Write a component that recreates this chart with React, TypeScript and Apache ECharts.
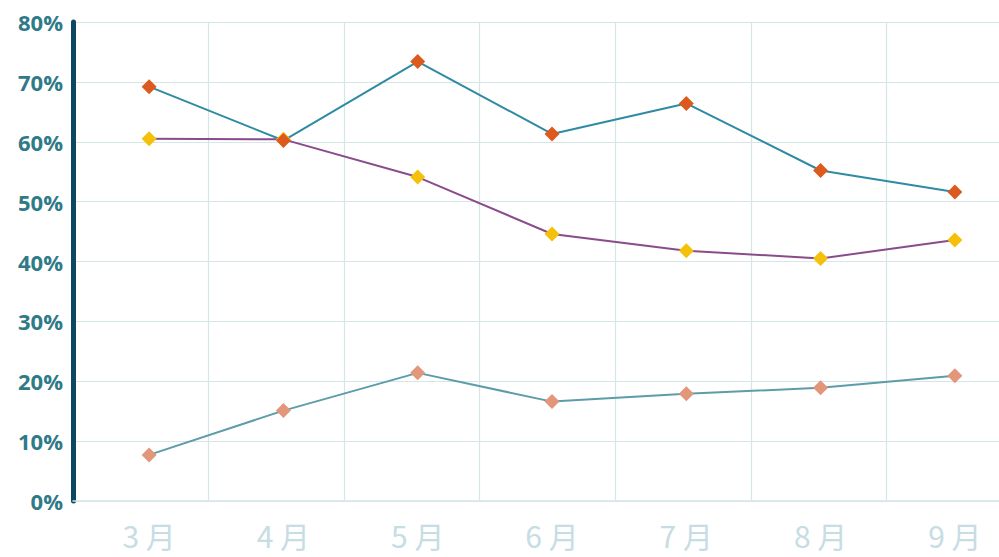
import React, { useEffect, useRef } from "react";
import * as echarts from "echarts";

const months = ["3 月", "4 月", "5 月", "6 月", "7 月", "8 月", "9 月"];
const seriesTop = [69.2, 60.2, 73.4, 61.3, 66.4, 55.2, 51.6];
const seriesMid = [60.5, 60.4, 54.1, 44.6, 41.8, 40.5, 43.6];
const seriesLow = [7.7, 15.1, 21.4, 16.6, 17.9, 18.9, 20.9];
const yMin = 0;
const yMax = 80;
const yStep = 10;

const gridColor = "#d6e5e8";

export default function App() {
  const ref = useRef<HTMLDivElement>(null);

  useEffect(() => {
    if (!ref.current) return;
    const chart = echarts.init(ref.current, null, { renderer: "svg" });

    const line = (data: number[], lineColor: string, markColor: string) => ({
      type: "line",
      xAxisIndex: 1,
      yAxisIndex: 1,
      data,
      symbol: "diamond",
      symbolSize: 15,
      lineStyle: { color: lineColor, width: 2 },
      itemStyle: { color: markColor },
      z: 3,
    });

    chart.setOption({
      animation: false,
      backgroundColor: "#ffffff",
      grid: [
        { left: 73, top: 22, width: 949, height: 479 },
        { left: 82, top: 22, width: 940, height: 479 },
      ],
      xAxis: [
        {
          type: "category",
          gridIndex: 0,
          data: months,
          boundaryGap: true,
          axisLine: { show: true, lineStyle: { color: gridColor, width: 1.5 } },
          axisTick: { show: false },
          axisLabel: { show: false },
          splitLine: { show: true, lineStyle: { color: gridColor, width: 1.2 } },
        },
        {
          type: "category",
          gridIndex: 1,
          data: months,
          boundaryGap: true,
          axisLine: { show: false },
          axisTick: { show: false },
          splitLine: { show: false },
          axisLabel: {
            margin: 19,
            fontSize: 30,
            color: "#c6dde3",
            fontFamily: "Noto Sans CJK SC",
          },
        },
      ],
      yAxis: [
        {
          type: "value",
          gridIndex: 0,
          min: yMin,
          max: yMax,
          interval: yStep,
          axisLine: { show: true, lineStyle: { color: "#0d4762", width: 5 } },
          axisTick: { show: false },
          splitLine: { show: true, lineStyle: { color: gridColor, width: 1.2 } },
          axisLabel: {
            formatter: (v: number) => `${v}%`,
            margin: 10,
            fontSize: 22,
            fontWeight: "bold",
            color: "#2f7a88",
            fontFamily: "Open Sans",
          },
        },
        {
          type: "value",
          gridIndex: 1,
          min: yMin,
          max: yMax,
          interval: yStep,
          show: false,
          splitLine: { show: false },
        },
      ],
      series: [
        line(seriesLow, "#5d9ca9", "#e2967a"),
        line(seriesMid, "#8a4b8d", "#f5c00a"),
        line(seriesTop, "#2f8aa3", "#dd5a1e"),
      ],
    });

    return () => chart.dispose();
  }, []);

  // The plot runs a little past the right edge, so the canvas is wider
  // than the visible frame and clipped by it.
  return (
    <div
      style={{
        position: "absolute",
        left: 0,
        top: 0,
        width: 999,
        height: 557,
        overflow: "hidden",
      }}
    >
      <div ref={ref} style={{ width: 1040, height: 557 }} />
    </div>
  );
}
